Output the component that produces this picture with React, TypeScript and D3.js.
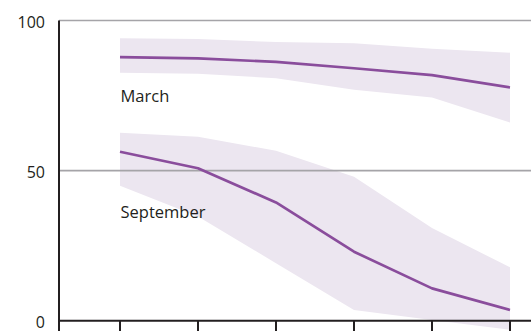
import React from "react";
import * as d3 from "d3";

// Six evenly spaced periods along the x axis (no labels drawn)
const periods = [1, 2, 3, 4, 5, 6];

// March: central estimate and uncertainty band
const marchMid = [87.8, 87.4, 86.2, 84.1, 81.8, 77.7];
const marchLow = [82.6, 82.3, 80.8, 76.9, 74.4, 66.0];
const marchHigh = [94.1, 93.8, 92.8, 92.4, 90.6, 89.3];

// September: central estimate and uncertainty band
const septMid = [56.3, 50.8, 39.4, 23.0, 10.8, 3.6];
const septLow = [45.0, 34.7, 19.2, 3.6, 0.3, -3.0];
const septHigh = [62.6, 61.3, 56.6, 48.0, 30.9, 17.8];

const yTicks = [0, 50, 100];

const W = 531;
const H = 331;
const left = 59;
const top = 20.5;
const bottom = 320.8;

const x = d3.scaleLinear().domain([1, 6]).range([120, 510]);
const y = d3.scaleLinear().domain([0, 100]).range([bottom, top]);

type Series = { name: string; mid: number[]; low: number[]; high: number[]; labelY: number };

const series: Series[] = [
  { name: "March", mid: marchMid, low: marchLow, high: marchHigh, labelY: 101.5 },
  { name: "September", mid: septMid, low: septLow, high: septHigh, labelY: 218 },
];

const band = d3
  .area<number>()
  .x((_, i) => x(periods[i]));

const line = d3.line<number>().x((_, i) => x(periods[i])).y((d) => y(d));

const font = "'Open Sans', sans-serif";

export default function App() {
  return (
    <svg
      width={W}
      height={H}
      style={{ position: "absolute", left: 0, top: 0, background: "#fff" }}
    >
      {/* bands */}
      {series.map((s) => (
        <path
          key={s.name + "-band"}
          d={
            band
              .y0((_, i) => y(s.low[i]))
              .y1((_, i) => y(s.high[i]))(s.mid) as string
          }
          fill="#ece6f0"
        />
      ))}

      {/* gridlines */}
      {yTicks
        .filter((t) => t > 0)
        .map((t) => (
          <line
            key={"g" + t}
            x1={left}
            x2={W}
            y1={y(t)}
            y2={y(t)}
            stroke="#a5a4a8"
            strokeWidth={1.7}
          />
        ))}

      {/* central lines */}
      {series.map((s) => (
        <path
          key={s.name + "-line"}
          d={line(s.mid) as string}
          fill="none"
          stroke="#8a4d9c"
          strokeWidth={2.7}
          strokeLinejoin="round"
        />
      ))}

      {/* series labels */}
      {series.map((s) => (
        <text
          key={s.name + "-label"}
          x={120.5}
          y={s.labelY}
          fontFamily={font}
          fontSize={16.5}
          fill="#231f20"
        >
          {s.name}
        </text>
      ))}

      {/* axes */}
      <line x1={left} x2={left} y1={top} y2={H} stroke="#231f20" strokeWidth={2} />
      <line x1={left - 1} x2={W} y1={bottom} y2={bottom} stroke="#231f20" strokeWidth={2} />
      {periods.map((p) => (
        <line
          key={"t" + p}
          x1={x(p)}
          x2={x(p)}
          y1={bottom}
          y2={H}
          stroke="#231f20"
          strokeWidth={2}
        />
      ))}

      {/* y tick labels */}
      {yTicks.map((t) => (
        <text
          key={"yl" + t}
          x={45}
          y={y(t) + 7}
          textAnchor="end"
          fontFamily={font}
          fontSize={16}
          fill="#231f20"
        >
          {t}
        </text>
      ))}
    </svg>
  );
}
